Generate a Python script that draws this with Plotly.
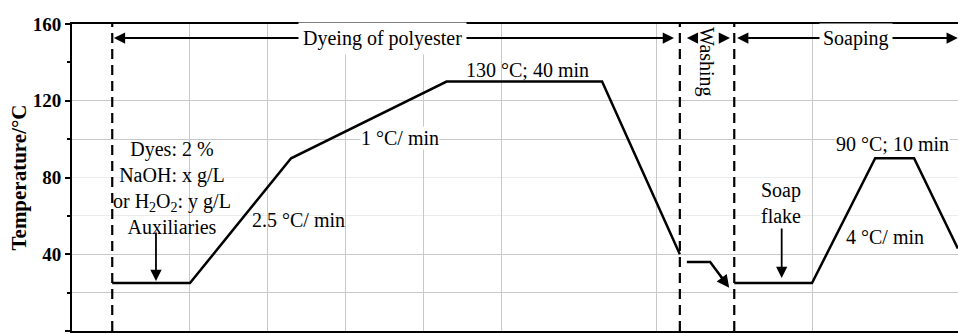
import plotly.graph_objects as go

# ---------------- data (time in min, temperature in degC) ----------------
dye_time = [0, 20, 46, 86, 126, 146]
dye_temp = [25, 25, 90, 130, 130, 40]

# washing: short hold, then drop (arrow) towards the soaping bath
wash_time = [147.8, 153.8, 158.2]
wash_temp = [36, 36, 24.0]

soap_time = [160, 180, 196.25, 206.25, 217.5]
soap_temp = [25, 25, 90, 90, 43]

stage_bounds = [0, 146, 160]          # dashed stage boundaries (min)
x_grid = [20, 40, 60, 80, 100, 140, 180]
y_ticks = [0, 40, 80, 120, 160]
y_minor = [20, 60, 100, 140]
y_grid_strong = [20, 40, 100, 120]
y_grid_faint = [60, 80]

FONT = "Liberation Serif"
X_RANGE = [-10.35, 217.55]
Y_RANGE = [0, 160]

fig = go.Figure()
fig.add_trace(go.Scatter(x=dye_time, y=dye_temp, mode="lines",
                         line=dict(color="black", width=2.5),
                         showlegend=False, hoverinfo="skip"))
fig.add_trace(go.Scatter(x=wash_time, y=wash_temp, mode="lines", yaxis="y2",
                         line=dict(color="black", width=2.5),
                         showlegend=False, hoverinfo="skip"))
fig.add_trace(go.Scatter(x=soap_time, y=soap_temp, mode="lines",
                         line=dict(color="black", width=2.5),
                         showlegend=False, hoverinfo="skip"))

shapes = []
for b in stage_bounds:
    shapes.append(dict(type="line", xref="x", yref="paper", x0=b, x1=b, y0=0, y1=1,
                       line=dict(color="black", width=2.2, dash="10px,6px"), layer="above"))

txt = dict(family=FONT, size=20, color="black")
tiny = dict(family=FONT, size=1, color="black")
ARR = dict(text="", showarrow=True, arrowhead=2, arrowsize=1.25, arrowwidth=1.8,
           arrowcolor="black", font=tiny, borderpad=0)
ann = []
arrow_y = 152.7
# stage arrows
ann.append(dict(x=144.5, y=arrow_y, ax=0.3, ay=arrow_y, axref="x", ayref="y",
                xref="x", yref="y", arrowside="end+start", **ARR))
ann.append(dict(x=69.5, y=arrow_y, text="Dyeing of polyester", showarrow=False,
                font=txt, bgcolor="white", borderpad=4))
ann.append(dict(x=147.8, y=arrow_y, ax=11, ay=0, **ARR))
ann.append(dict(x=158.9, y=arrow_y, ax=-11, ay=0, **ARR))
ann.append(dict(x=152.7, y=140.2, text="Washing", textangle=90, showarrow=False, font=txt))
ann.append(dict(x=217.5, y=arrow_y, ax=160.6, ay=arrow_y, axref="x", ayref="y",
                arrowside="end+start", **ARR))
ann.append(dict(x=191.3, y=arrow_y, text="Soaping", showarrow=False, font=txt,
                bgcolor="white", borderpad=3))

# process labels
ann.append(dict(x=106.8, y=136.0, text="130 °C; 40 min", showarrow=False, font=txt))
ann.append(dict(x=73.9, y=100.7, text="1 °C/ min", showarrow=False, font=txt,
                bgcolor="white", borderpad=0))
ann.append(dict(x=47.8, y=57.8, text="2.5 °C/ min", showarrow=False, font=txt))
ann.append(dict(x=15.25, y=74.7,
                text="Dyes: 2 %<br>NaOH: x g/L<br>or H<sub>2</sub>O<sub>2</sub>: y g/L<br>Auxiliaries",
                showarrow=False, font=txt))
ann.append(dict(x=11.25, y=26, ax=0, ay=-49, **ARR))
ann.append(dict(x=200.6, y=97.4, text="90 °C; 10 min", showarrow=False, font=txt,
                bgcolor="white", borderpad=0))
ann.append(dict(x=172.0, y=66.9, text="Soap<br>flake", showarrow=False, font=txt,
                bgcolor="white", borderpad=0))
ann.append(dict(x=172.2, y=27.6, ax=0, ay=-50, **ARR))
ann.append(dict(x=198.9, y=49.0, text="4 °C/ min", showarrow=False, font=txt))
# washing drop arrowhead (tip slightly beyond the end of the washing line)
ann.append(dict(x=158.7, y=22.6, ax=-9, ay=-12, **{**ARR, "arrowwidth": 2}))

fig.update_layout(
    width=958, height=334,
    margin=dict(l=72, r=0, t=24, b=3),
    plot_bgcolor="white", paper_bgcolor="white",
    font=dict(family=FONT, color="black"),
    showlegend=False,
    xaxis=dict(range=X_RANGE, tickvals=x_grid, showticklabels=False, ticks="",
               showgrid=True, gridcolor="#c8c8c8", gridwidth=1, zeroline=False,
               showline=True, linecolor="black", linewidth=2, mirror=True),
    yaxis=dict(range=Y_RANGE, tickvals=y_ticks, ticks="outside", ticklen=5, tickwidth=2,
               tickcolor="black", showgrid=False, zeroline=False,
               showline=True, linecolor="black", linewidth=2,
               tickfont=dict(family=FONT, size=19, color="black", weight="bold"),
               minor=dict(tickvals=y_minor, ticks="outside", ticklen=3, tickwidth=1.5,
                          tickcolor="black", showgrid=False),
               title=dict(text="Temperature/°C", standoff=0,
                          font=dict(family=FONT, size=21, color="black", weight="bold"))),
    yaxis2=dict(range=Y_RANGE, overlaying="y", tickvals=y_grid_strong, showticklabels=False,
                ticks="", showgrid=True, gridcolor="#c8c8c8", gridwidth=1, zeroline=False,
                showline=False,
                minor=dict(tickvals=y_grid_faint, showgrid=True, gridcolor="#ececec",
                           ticks="")),
    shapes=shapes,
    annotations=ann,
)

fig.write_html("out.html")
